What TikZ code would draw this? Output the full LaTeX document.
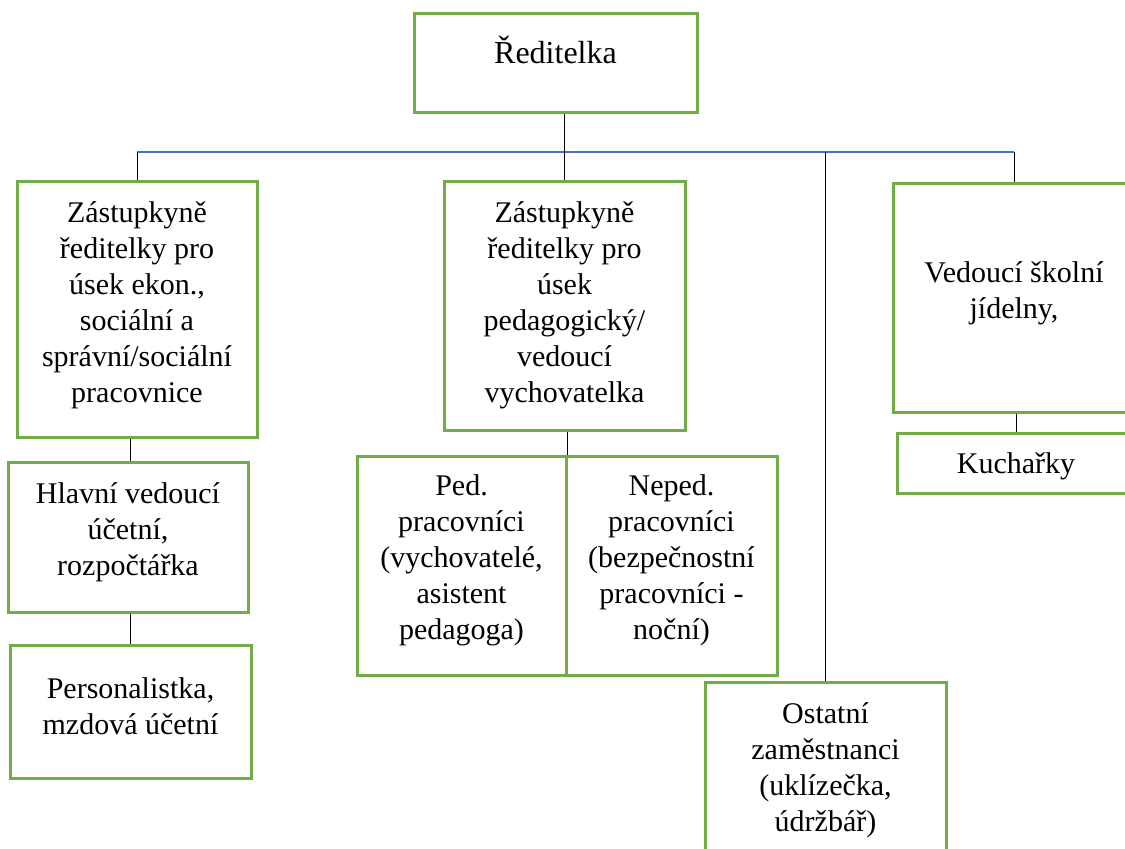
\documentclass[tikz,border=0pt]{standalone}
\usepackage{fontspec}
\setmainfont{Liberation Serif}
\usetikzlibrary{positioning, calc}
\definecolor{boxgreen}{RGB}{112, 173, 71}
\definecolor{busblue}{RGB}{68, 114, 196}

\begin{document}
\begin{tikzpicture}[x=0.5pt, y=-0.5pt,
    orgbox/.style={rectangle, draw=boxgreen, line width=1.5pt, align=center,
                   inner sep=0pt, font=\fontsize{15}{18}\selectfont},
    link/.style={draw=black, line width=0.5pt},
    bus/.style={draw=busblue, line width=0.6pt}
]
\useasboundingbox (0,0) rectangle (1125,848);

% Top
\node[orgbox, minimum width=141.5pt, minimum height=49.5pt, text depth=12.5pt,
      font=\fontsize{16}{19}\selectfont] (reditelka) at (555.5,62.5) {Ředitelka};

% ============================================
% SECOND LEVEL
% ============================================
\node[orgbox, minimum width=120pt, minimum height=128pt, text depth=7.5pt] (zast1) at (137,309.5)
    {Zástupkyně\\ředitelky pro\\úsek ekon.,\\sociální a\\správní/sociální\\pracovnice};
\node[orgbox, minimum width=120.5pt, minimum height=124.5pt, text depth=3.5pt] (zast2) at (564.5,305.5)
    {Zástupkyně\\ředitelky pro\\úsek\\pedagogický/\\vedoucí\\vychovatelka};
\node[orgbox, minimum width=121pt, minimum height=114.5pt, text depth=7.5pt] (jidelna) at (1014,297.5)
    {Vedoucí školní\\jídelny,};
\node[orgbox, minimum width=120.5pt, minimum height=90pt, text depth=5pt] (ostatni) at (825.5,772)
    {Ostatní\\zaměstnanci\\(uklízečka,\\údržbář)};

% ============================================
% LOWER LEVELS
% ============================================
\node[orgbox, minimum width=120pt, minimum height=75pt, text depth=8pt] (hlavni) at (128,537)
    {Hlavní vedoucí\\účetní,\\rozpočtářka};
\node[orgbox, minimum width=120.5pt, minimum height=66.5pt, text depth=5.5pt] (person) at (130.5,711.5)
    {Personalistka,\\mzdová účetní};
\node[orgbox, minimum width=104.5pt, minimum height=109.5pt, text depth=8.5pt] (ped) at (461.5,565.5)
    {Ped.\\pracovníci\\(vychovatelé,\\asistent\\pedagoga)};
\node[orgbox, minimum width=105.5pt, minimum height=109.5pt, text depth=8.5pt] (neped) at (671.5,565.5)
    {Neped.\\pracovníci\\(bezpečnostní\\pracovníci -\\noční)};
\node[orgbox, minimum width=119pt, minimum height=30pt, text depth=0pt] (kuch) at (1016,463) {Kuchařky};

% ============================================
% CONNECTORS
% ============================================
\coordinate (busy) at (0,152);
\draw[bus] (zast1.north |- busy) -- (jidelna.north |- busy);
\draw[link] (reditelka.south -| zast2.north) -- (zast2.north);
\foreach \b in {zast1, jidelna, ostatni} {
    \draw[link] (\b.north) -- (\b.north |- busy);
}
\draw[link] (zast1.south -| person.north) -- (hlavni.north -| person.north);
\draw[link] (hlavni.south -| person.north) -- (person.north);
\draw[link] (zast2.south -| ped.north east) -- (ped.north east);
\draw[link] (jidelna.south -| kuch.north) -- (kuch.north);

\end{tikzpicture}
\end{document}
